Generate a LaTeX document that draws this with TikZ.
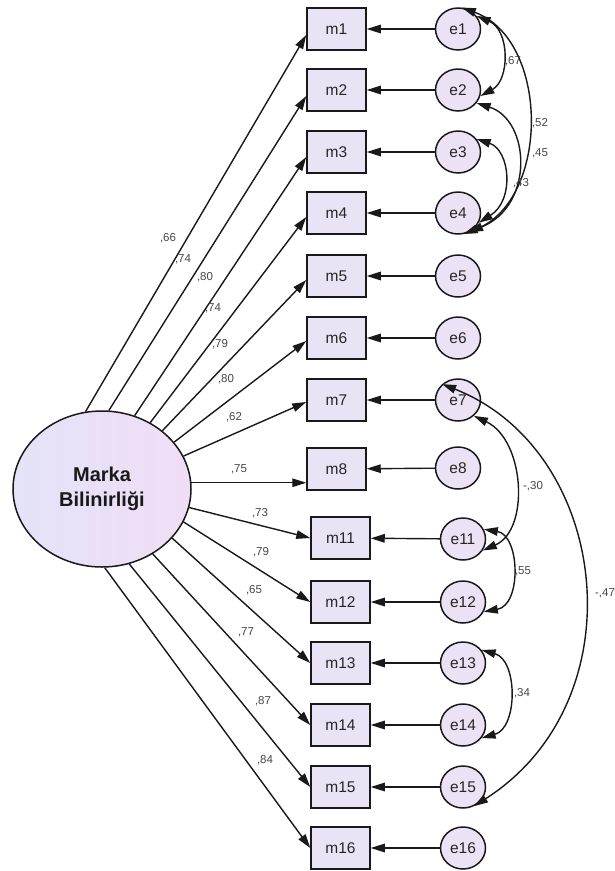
\documentclass[tikz,border=0pt]{standalone}
\usepackage{fontspec}
\setmainfont{Liberation Sans}
\usetikzlibrary{arrows.meta,shapes.geometric}
\definecolor{boxfill}{RGB}{233,227,246}
\definecolor{efill}{RGB}{236,226,246}
\definecolor{bigL}{RGB}{228,227,247}
\definecolor{bigR}{RGB}{240,221,246}
\definecolor{inkC}{RGB}{25,25,25}
\begin{document}
\begin{tikzpicture}[x=1pt,y=-1pt,
  obs/.style={draw=inkC, line width=1.5pt, fill=boxfill, minimum width=59pt, minimum height=42pt, inner sep=0pt, font=\fontsize{15.5}{15.5}\selectfont, text=black!85},
  err/.style={ellipse, draw=inkC, line width=1.5pt, fill=efill, minimum width=45pt, minimum height=42pt, inner sep=0pt, font=\fontsize{15.5}{15.5}\selectfont, text=black!85},
  load/.style={draw=inkC, line width=1.4pt, -{Triangle[length=14pt,width=8.5pt]}},
  cov/.style={draw=inkC, line width=1.4pt, {Triangle[length=14pt,width=8.5pt]}-{Triangle[length=14pt,width=8.5pt]}},
  coef/.style={font=\fontsize{11.5}{11.5}\selectfont, text=black!72, inner sep=0pt}
]
\useasboundingbox (0,0) rectangle (614,871);
\fill[white] (0,0) rectangle (614,871);

% latent
\node[ellipse, draw=inkC, line width=1.5pt, left color=bigL, right color=bigR,
      minimum width=178pt, minimum height=156pt, inner sep=0pt, align=center,
      font=\bfseries\fontsize{20}{25}\selectfont, text=black!90] (big) at (102,489) {Marka\\Bilinirliği};

% observed boxes
\foreach \n/\y in {1/29,2/90,3/152,4/213,5/276,6/338,7/400,8/469}
  \node[obs] (m\n) at (336.5,\y) {m\n};
\foreach \n/\y in {11/538,12/602,13/663,14/725,15/787,16/848}
  \node[obs] (m\n) at (340.5,\y) {m\n};

% errors
\foreach \n/\y in {1/29,2/90,3/152,4/213,5/276,6/338,7/400,8/468}
  \node[err] (e\n) at (458,\y) {e\n};
\foreach \n/\y in {11/539,12/602,13/663,14/725,15/787,16/848}
  \node[err] (e\n) at (463,\y) {e\n};

% loadings
\foreach \n/\a/\s in {1/102.6/6,2/85.5/6,3/66/5,4/54.4/4,5/44/4,6/33.9/3,7/22.8/2}
  \draw[load] (big.\a) -- ([yshift=-\s pt]m\n.west);
\draw[load] (big.4.5) -- (big.4.5 -| m8.west);
\foreach \n/\a in {11/-12.5,12/-22.3,13/-35,14/-52,15/-70,16/-88}
  \draw[load] (big.\a) -- (m\n.west);

% error arrows
\foreach \n in {1,2,3,4,5,6,7,8,11,12,13,14,15,16}
  \draw[load] (e\n) -- (m\n);

% loading labels
\node[coef] (l1) at (168,238) {,66};
\node[coef] (l2) at (183,259) {,74};
\node[coef] (l3) at (205,277) {,80};
\node[coef] (l4) at (213,308) {,74};
\node[coef] (l5) at (220,344) {,79};
\node[coef] (l6) at (226,379) {,80};
\node[coef] (l7) at (234,417) {,62};
\node[coef] (l8) at (239,469) {,75};
\node[coef] (l11) at (260,513) {,73};
\node[coef] (l12) at (261,552) {,79};
\node[coef] (l13) at (254,590) {,65};
\node[coef] (l14) at (246,632) {,77};
\node[coef] (l15) at (263,701) {,87};
\node[coef] (l16) at (265,760) {,84};

% covariances
\draw[cov] (e1.35) .. controls (510,30) and (510,80) .. (e2.-15);
\draw[cov] (e1.80) .. controls (550,40) and (550,200) .. (e4.-75);
\draw[cov] (e2.-35) .. controls (530,120) and (535,205) .. (e4.-60);
\draw[cov] (e3.35) .. controls (510,150) and (515,200) .. (e4.-25);
\draw[cov] (e7.-45) .. controls (525,440) and (530,530) .. (e11.-30);
\draw[cov] (e11.25) .. controls (520,535) and (522,605) .. (e12.-25);
\draw[cov] (e13.35) .. controls (518,660) and (518,728) .. (e14.-35);
\draw[cov] (e7.135) .. controls (610,450) and (640,700) .. (e15.-60);

\node[coef] (c1) at (513,61) {,67};
\node[coef] (c2) at (540,123) {,52};
\node[coef] (c3) at (540,153) {,45};
\node[coef] (c4) at (521,183) {,43};
\node[coef] (c5) at (533,486) {-,30};
\node[coef] (c6) at (523,571) {,55};
\node[coef] (c7) at (522,693) {,34};
\node[coef] (c8) at (605,593) {-,47};
\end{tikzpicture}
\end{document}
